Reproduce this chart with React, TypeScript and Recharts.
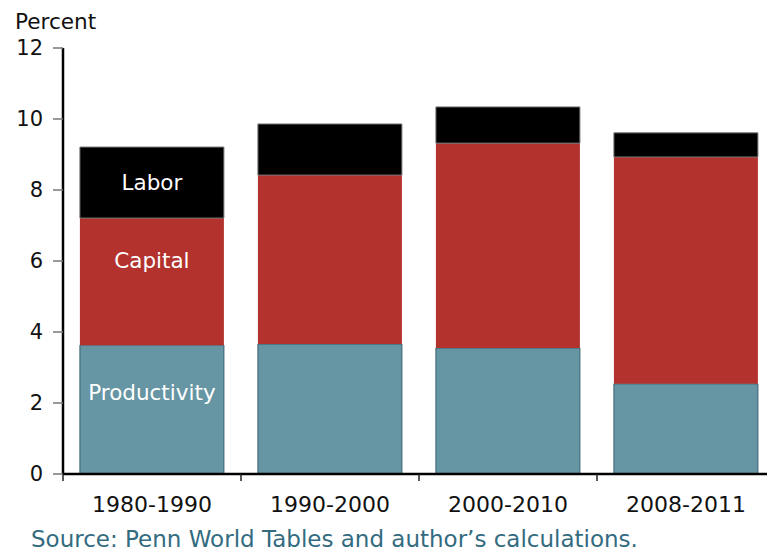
import React from "react";
import { BarChart, Bar, XAxis, YAxis, LabelList } from "recharts";

const categories = ["1980-1990", "1990-2000", "2000-2010", "2008-2011"];
const productivity = [3.63, 3.66, 3.55, 2.54];
const capital = [3.58, 4.76, 5.77, 6.39];
const labor = [2.0, 1.44, 1.02, 0.68];
const yTicks = [0, 2, 4, 6, 8, 10, 12];

const data = categories.map((c, i) => ({
  name: c,
  productivity: productivity[i],
  capital: capital[i],
  labor: labor[i],
}));

const FONT = "'DejaVu Sans', Verdana, sans-serif";
const X_TICK_MARGIN = 22;

const makeLabel = (text: string, dy: number) => (props: any) => {
  const { x, y, width, height, index } = props;
  if (index !== 0) return null;
  return (
    <text
      x={Number(x) + Number(width) / 2}
      y={Number(y) + Number(height) / 2 + dy}
      fill="#ffffff"
      fontSize={21.5}
      fontFamily={FONT}
      textAnchor="middle"
      dominantBaseline="central"
    >
      {text}
    </text>
  );
};

const XTick = (props: any) => {
  const { x, y, payload, index, visibleTicksCount } = props;
  const half = Number(payload?.offset) || 0;
  const axisY = Number(y) - X_TICK_MARGIN;
  const lines = [Number(x) - half];
  if (index === (visibleTicksCount ?? categories.length) - 1) lines.push(Number(x) + half);
  return (
    <g>
      {lines.map((lx, i) => (
        <line
          key={i}
          x1={lx}
          x2={lx}
          y1={axisY}
          y2={axisY + 7}
          stroke="#222"
          strokeWidth={1.5}
        />
      ))}
      <text
        x={x}
        y={y}
        dy="0.71em"
        textAnchor="middle"
        fill="#111"
        fontSize={22}
        fontFamily={FONT}
      >
        {payload.value}
      </text>
    </g>
  );
};

export default function App() {
  return (
    <div
      style={{
        position: "absolute",
        left: 0,
        top: 0,
        width: 767,
        height: 551,
        overflow: "hidden",
        background: "#fff",
      }}
    >
      <div
        style={{
          position: "absolute",
          left: 15,
          top: 10,
          fontFamily: FONT,
          fontSize: 21.6,
          color: "#111",
          lineHeight: "24px",
        }}
      >
        Percent
      </div>
      <BarChart
        width={800}
        height={551}
        data={data}
        margin={{ top: 48, right: 25, bottom: 37, left: 0 }}
        barCategoryGap="9.5%"
      >
        <XAxis
          dataKey="name"
          height={40}
          tickSize={0}
          tickMargin={X_TICK_MARGIN}
          tickLine={false}
          interval={0}
          axisLine={{ stroke: "#000", strokeWidth: 2.5 }}
          tick={<XTick />}
        />
        <YAxis
          width={63}
          domain={[0, 12]}
          ticks={yTicks}
          interval={0}
          tickSize={10}
          tickMargin={10}
          tickLine={{ stroke: "#777", strokeWidth: 1.5 }}
          axisLine={{ stroke: "#000", strokeWidth: 2.5 }}
          tick={{ fill: "#111", fontSize: 21, fontFamily: FONT }}
        />
        <Bar
          dataKey="productivity"
          stackId="a"
          fill="#6695a3"
          stroke="#35606e"
          strokeWidth={1}
          isAnimationActive={false}
        >
          <LabelList content={makeLabel("Productivity", -17)} />
        </Bar>
        <Bar
          dataKey="capital"
          stackId="a"
          fill="#b3322e"
          isAnimationActive={false}
        >
          <LabelList content={makeLabel("Capital", -21)} />
        </Bar>
        <Bar
          dataKey="labor"
          stackId="a"
          fill="#000000"
          stroke="#777"
          strokeWidth={1}
          isAnimationActive={false}
        >
          <LabelList content={makeLabel("Labor", 0)} />
        </Bar>
      </BarChart>
      <div
        style={{
          position: "absolute",
          left: 31,
          top: 527,
          fontFamily: FONT,
          fontSize: 23,
          color: "#336b80",
          lineHeight: "24px",
          whiteSpace: "nowrap",
        }}
      >
        Source: Penn World Tables and author’s calculations.
      </div>
    </div>
  );
}
